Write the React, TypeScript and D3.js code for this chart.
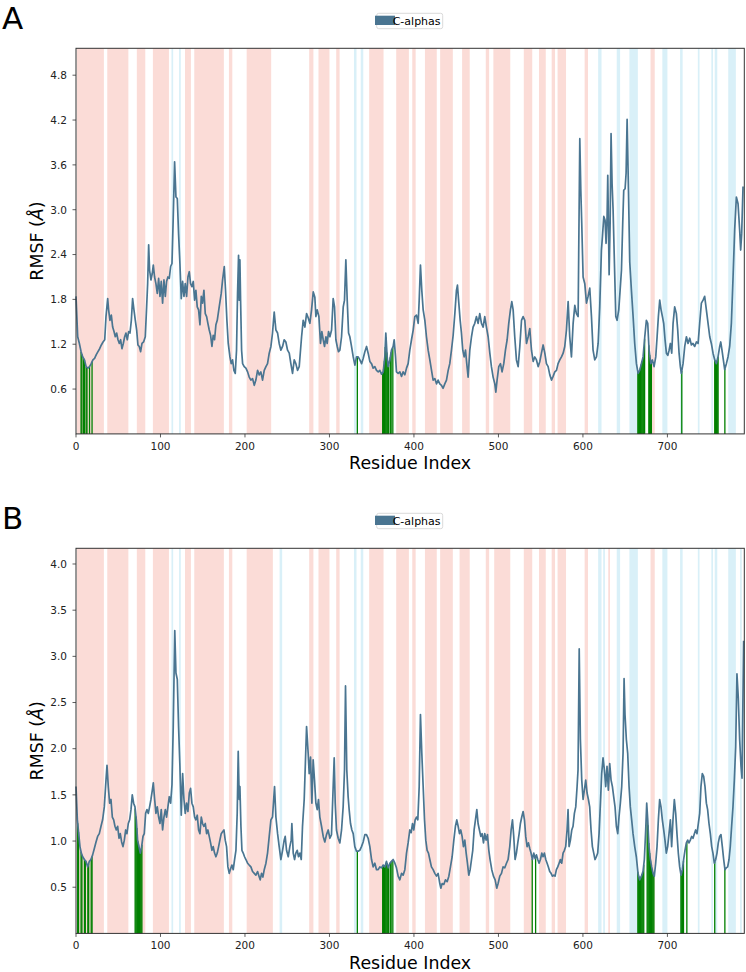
import React from 'react';
import * as d3 from 'd3';

// ---------- data ----------
const xTicks = [0, 100, 200, 300, 400, 500, 600, 700];
const yTicksA = [0.6, 1.2, 1.8, 2.4, 3.0, 3.6, 4.2, 4.8];
const yTicksB = [0.5, 1.0, 1.5, 2.0, 2.5, 3.0, 3.5, 4.0];
const panelLabels = ['A', 'B'];
const legendLabel = 'C-alphas';
const xLabel = 'Residue Index';

const resA = [0,2,4,6,8,10,12,14,16,18,20,22,24,26,28,30,32,34,35.5,37.5,38.6,40.2,41.8,43.4,45,46.5,48.1,49.7,51.3,52.8,54.4,56,57.6,59.1,60.7,62.3,63.9,65.5,67,68.6,70.2,71.8,73.3,74.9,76.5,78.1,80,82,83.6,84.8,86,87.1,88.7,90.3,91.5,93,94.6,96.2,97.8,99.4,100.9,102.5,104.1,105.7,107.2,108.8,110.4,112,113.6,115.1,116.7,118.3,119.9,121.4,123,124.6,126.2,127.8,129.3,130.9,132.5,134.1,135.6,137.2,138.8,140.4,141.9,143.5,145.1,146.7,148.3,149.8,151.4,153,154.6,156.1,157.7,159.3,160.9,162.4,164,165.6,167.2,169.5,171.9,173.5,175.5,177,178.6,180.2,182.2,183.7,185.3,186.9,188.5,190,191.2,192.4,193.2,194,194.8,196,197.2,199.1,201.1,203.1,205,207,209,211,212.9,214.9,216.9,218.8,220.8,222.8,224.8,226.7,228.7,230.7,232.6,234.6,236.6,238.6,240.5,242.5,244.5,246.4,248.4,250.4,252.4,254.3,256.3,258.3,260.2,262.2,264.2,
  267,268.9,270.9,272.9,274.9,276.8,278.8,280.8,282.7,283.9,285.5,287.5,289.4,291,292.6,294.2,295.8,297.3,298.9,300.5,302.5,304.4,306,307.6,309.2,310.7,312.3,314.3,316.3,317.8,319.4,321,322.6,324.1,326.1,328.1,330.1,332,334,336,338,339.9,341.9,343.9,345.8,347.8,349.8,351.7,353.7,355.7,357.7,359.6,361.6,363.6,365.5,366.7,368.3,369.5,371.5,373.4,375.4,376.6,378.2,379.3,381.3,383.3,385.3,387.2,389.2,391.2,393.1,395.1,397.1,399.1,401,403,405,406.2,407.7,409.3,410.9,412.9,414.8,416.8,418.8,420.8,422.7,424.7,426.7,428.6,430.6,432.6,434.5,436.5,438.5,440.5,442.4,444.4,446.4,448.4,450.3,451.5,453.1,454.7,456.2,457.8,459.4,461,462.5,464.1,466.1,468.1,470,472,474,475.9,477.9,479.9,481.9,483.8,485.8,487.8,489.8,491.7,493.7,495.7,496.9,498.4,500.4,502.4,504.3,506.3,508.3,510.3,512.2,514.2,515.8,517.4,519.3,521.3,523.3,
  525.3,527.3,529.2,531.2,533.2,535.2,537.1,539.1,541.1,543,545,547,549,550.9,552.9,554.9,556.8,558.8,560.8,562.8,564.7,566.7,568.7,570.6,572.6,574.6,576.6,578.5,580.5,582.5,584.4,586.4,588.4,590.4,592.3,594.3,596.3,597.5,598.6,600.2,602.2,604.2,606.1,608.1,610.1,612,614,616,618,619.9,621.9,623.1,624.7,626.2,627.4,628.6,629.4,630.2,631,632.2,633.3,634.5,635.7,637.3,638.9,640.4,642.4,644,645.6,647.1,648.3,649.9,651.1,652.3,653.9,655.4,657.4,659.4,661.3,663.3,665.3,667.2,669.2,671.2,673.2,675.1,676.7,678.3,680.3,682.2,684.2,686.2,687.8,689.3,690.9,692.5,694.1,695.6,697.2,698.8,700.4,702,703.5,705.1,706.7,708.6,710.6,712.2,713.8,715.3,716.5,718.5,720.5,722.5,724.4,726.4,728.4,730.3,732.3,734.3,736.3,738.2,740.2,742.2,744.1,746.1,748.1,750.1,752,754,756,757.9,759.9,761.9,763.1,764.6,766.2,767.8,769.8,771.7,773.7,775.7,777.7,779.6,781.6,783.6,785.5,786.7,787.9,789.5];
const rmsfA = [1.84,1.30,1.21,1.10,1.03,0.99,0.90,0.88,0.90,0.94,0.99,1.01,1.06,1.10,1.14,1.19,1.23,1.26,1.57,1.81,1.66,1.52,1.59,1.43,1.37,1.30,1.35,1.26,1.21,1.26,1.14,1.21,1.30,1.35,1.26,1.37,1.35,1.52,1.81,1.66,1.52,1.39,1.19,1.17,1.10,1.21,1.23,1.30,1.70,2.01,2.53,2.19,2.06,2.15,2.26,2.10,2.01,1.88,2.08,1.84,2.04,1.75,2.06,1.84,2.04,2.10,2.08,2.24,2.28,2.90,3.64,3.17,3.15,2.68,2.28,1.81,2.04,1.84,2.01,1.84,2.10,2.17,2.01,1.97,2.04,1.79,1.92,1.70,1.66,1.46,1.84,1.75,1.92,1.61,1.57,1.48,1.39,1.32,1.17,1.32,1.26,1.46,1.52,1.70,1.88,2.06,2.24,1.92,1.52,1.21,1.03,0.94,0.99,0.85,0.81,1.12,1.88,2.39,1.79,2.33,1.79,1.12,0.94,0.90,0.88,0.83,0.76,0.72,0.74,0.65,0.72,0.85,0.79,0.83,0.72,0.85,0.90,0.94,1.08,1.17,1.35,1.63,1.39,1.35,1.21,1.12,1.17,1.26,1.23,1.12,1.08,0.94,0.81,0.99,0.94,0.85,0.90,
  1.30,1.52,1.43,1.61,1.55,1.48,1.66,1.90,1.83,1.57,1.66,1.57,1.21,1.37,1.26,1.17,1.30,1.21,1.37,1.30,1.39,1.81,1.70,1.26,1.17,1.10,1.12,1.30,1.70,1.79,2.33,1.79,1.35,1.30,1.17,1.03,0.92,1.03,1.03,0.99,0.94,1.01,1.10,1.17,1.08,0.97,0.94,0.88,0.90,0.85,0.83,0.85,0.80,0.83,1.03,1.35,1.03,0.90,0.99,1.12,1.17,1.26,1.03,0.83,0.81,0.83,0.77,0.83,0.79,0.88,0.94,1.12,1.26,1.39,1.57,1.59,1.48,1.79,2.26,1.92,1.66,1.52,1.30,1.12,0.99,0.85,0.72,0.74,0.67,0.72,0.67,0.65,0.61,0.67,0.72,0.85,0.94,1.12,1.32,1.61,1.92,1.99,1.75,1.52,1.35,1.12,1.03,1.12,0.94,0.76,1.12,1.30,1.43,1.48,1.57,1.48,1.61,1.48,1.43,1.57,1.43,1.30,1.08,0.90,0.76,0.67,0.56,0.72,0.90,0.94,0.83,0.94,1.12,1.26,1.48,1.66,1.77,1.66,1.30,0.99,0.90,
  1.17,1.52,1.57,1.52,1.21,1.30,1.41,1.12,0.97,1.03,0.99,0.90,0.97,1.08,1.19,1.08,0.94,0.90,0.79,0.72,0.77,0.83,0.85,0.94,0.99,1.03,1.08,1.17,1.39,1.77,1.30,1.03,1.48,1.72,1.61,1.57,3.95,3.26,2.82,2.10,2.01,1.75,1.84,1.95,1.57,1.12,0.99,1.03,1.21,1.70,2.46,2.64,2.91,2.86,2.55,2.91,3.46,2.82,2.13,2.82,4.02,3.35,3.00,2.28,1.57,1.52,1.66,1.92,2.19,2.82,3.26,3.28,3.49,4.21,3.26,2.30,1.92,1.57,1.21,0.94,0.81,0.85,0.94,1.03,1.30,1.52,1.48,1.12,0.94,0.99,0.90,1.03,1.30,1.57,1.79,1.66,1.57,1.48,1.26,1.08,1.05,1.12,1.21,1.08,1.48,1.70,1.61,1.39,1.08,0.90,0.81,0.94,1.17,1.30,1.21,1.28,1.19,1.21,1.17,1.23,1.21,1.48,1.75,1.79,1.84,1.66,1.48,1.30,1.21,1.08,0.99,0.94,1.03,1.17,1.23,1.12,0.99,0.86,0.94,1.03,1.17,1.48,2.10,2.73,3.17,3.08,2.73,2.46,2.68,3.31];

const resB = [0,1.6,3.2,4.7,6.3,7.9,9.9,11.8,13.8,15.8,17.7,19.7,21.7,23.7,25.6,27.6,29.6,31.5,33.5,35.5,36.7,38.2,39.8,41.4,43,44.6,46.1,47.7,49.3,50.9,52.4,54,55.6,57.2,58.8,60.3,61.9,63.5,65.1,66.6,68.2,69.8,71.4,72.9,74.5,76.1,77.7,79.3,80.8,82.4,84,85.6,87.1,88.7,90.3,91.5,93.1,94.6,96.2,97.8,99.4,100.9,102.5,104.1,105.7,107.2,108.8,110.4,112,113.6,115.1,116.9,118.3,119.9,121.4,123,124.6,126.2,127.8,129.3,130.9,132.5,134.1,135.6,137.2,138.8,140.4,141.9,143.5,145.1,146.7,148.3,149.8,151.4,153,154.6,156.1,157.7,159.3,160.9,162.4,164,165.6,167.2,168.8,170.3,171.9,173.5,175.1,176.6,178.2,179.8,181.4,183,184.5,186.1,187.7,189.3,190.8,192,193.2,194,195.2,196.4,197.9,199.5,201.1,203.1,205,207,209,211,212.9,214.9,216.9,218,219.6,221.2,222.8,224.8,226.7,228.7,230.7,232.6,235,236.6,238.6,240.5,242.5,244.5,246.4,247.6,249.2,251.2,253.1,254.7,255.5,257.1,258.7,260.2,261.8,263.4,265,266.6,268.1,270.1,
  272.9,274.8,276,277.6,279.2,280.7,282.3,283.9,285.5,287,288.6,290.6,292.6,294.5,296.5,298.5,300.5,302.4,304.4,305.6,306.8,308.3,310.3,312.3,314.3,316.2,317.8,319,320.5,322.1,323.3,324.9,326.5,328.1,330,332,334,335.9,337.9,339.9,341.9,343.8,345.8,347.8,349.8,351.7,353.7,355.7,
  357.7,359.6,361.6,363.6,365.5,367.5,369.5,371.5,373.4,375.4,377.4,379.3,381.3,383.3,385.3,387.2,389.2,391.2,393.1,395.1,396.7,398.3,399.8,401.4,403,404.6,406.2,407.7,409.3,410.9,412.5,414,415.6,417.2,418.8,420.7,422.7,424.7,426.7,428.6,430.6,431.8,433.4,435.3,437.3,439.3,441.3,443.2,445.2,447.2,449.1,450.7,452.3,453.9,455.4,457,458.6,460.2,461.8,463.3,464.9,466.5,468.1,469.6,471.2,472.8,474.4,475.9,477.5,479.1,480.7,482.3,483.8,485.4,487,488.6,490.1,492.1,494.1,496.1,498,499.6,501.6,503.6,505.5,507.5,509.5,511.4,513.4,515,516.6,518.1,519.7,521.3,522.9,524.5,526,527.6,529.2,530.8,532.3,533.9,535.5,537.1,538.6,540.2,541.8,543.4,545,546.5,548.1,549.7,551.3,552.8,554.4,556,557.6,559.1,560.7,562.3,563.9,565.5,567,568.6,570.2,571.8,573.3,574.9,576.5,578.1,579.6,581.2,582.4,583.6,585.2,586.8,588.3,589.9,591.5,593.1,594.2,595.6,597,598.6,600.2,601.7,603.3,604.9,606.5,608,609.6,611.2,612.8,614.3,615.9,617.5,619.1,620.7,622.2,623.8,625.4,627,628.5,630.1,631.7,633.3,634.9,636.4,638,639.6,641.2,642.7,644.3,645.9,647.5,648.7,649.8,651.4,653,654.6,656.1,657.7,659.3,661.3,663.2,665.2,667.2,669.2,671.1,672.7,674.3,675.5,676.7,678.2,679.8,681.4,683,684.5,686.1,687.7,689.3,690.8,692.4,694,695.6,697.1,698.7,700.3,701.9,703.5,705,706.6,708.2,709.8,711.3,712.9,714.5,716.1,717.7,719.2,720.8,722.4,724,725.5,727.1,728.7,730.3,731.9,733.4,735,736.6,738.2,739.7,741.3,742.9,744.5,746.1,747.6,749.2,750.8,752.4,753.9,755.5,757.1,758.7,760.2,761.8,763.4,765,766.6,768.1,769.7,771.3,772.9,774.4,776,777.6,779.2,780.8,782.3,783.9,785.5,787.1,788.3,790.2];
const rmsfB = [1.59,1.23,1.08,0.94,0.87,0.83,0.80,0.78,0.72,0.78,0.80,0.85,0.92,0.99,1.05,1.08,1.16,1.23,1.37,1.66,1.82,1.59,1.41,1.45,1.26,1.23,1.16,1.12,1.16,1.03,1.08,0.99,0.94,1.01,1.12,1.08,1.19,1.23,1.34,1.50,1.41,1.37,1.23,1.01,0.94,0.87,0.94,1.05,1.08,1.30,1.34,1.30,1.37,1.45,1.55,1.63,1.45,1.30,1.37,1.26,1.19,1.34,1.12,1.26,1.34,1.26,1.37,1.48,1.41,1.61,2.24,3.28,2.82,2.75,2.24,1.81,1.28,1.73,1.45,1.30,1.41,1.32,1.52,1.57,1.41,1.37,1.26,1.23,1.28,1.12,1.08,1.26,1.19,1.16,1.19,1.08,1.12,1.05,0.98,0.90,0.94,0.87,0.83,0.87,0.94,1.01,1.08,1.10,1.12,1.01,0.94,0.72,0.65,0.70,0.74,0.69,0.80,0.90,1.30,1.97,1.45,1.59,1.16,0.90,0.87,0.83,0.80,0.76,0.74,0.72,0.67,0.65,0.63,0.67,0.61,0.58,0.65,0.61,0.69,0.76,0.87,1.05,1.23,1.26,1.59,1.26,1.08,0.94,0.80,0.90,1.01,1.05,0.90,0.83,0.94,1.01,1.19,0.87,0.80,0.87,0.90,0.83,0.87,0.80,1.16,1.45,
  2.24,1.95,1.73,1.91,1.41,1.88,1.66,1.41,1.34,1.45,1.26,1.16,1.05,0.99,1.07,1.12,1.03,1.07,1.59,1.90,1.41,1.12,1.03,0.98,1.12,1.37,1.77,2.68,1.77,1.48,1.34,1.19,1.12,1.08,0.94,0.89,0.89,0.90,0.94,0.99,1.07,1.07,1.03,0.94,0.80,0.72,0.76,0.69,
  0.69,0.72,0.71,0.74,0.72,0.78,0.71,0.76,0.78,0.80,0.76,0.71,0.62,0.58,0.65,0.63,0.69,0.87,0.98,1.12,1.09,1.19,1.12,1.23,1.26,1.23,1.59,2.37,1.95,1.59,1.23,1.01,0.90,0.87,0.80,0.72,0.69,0.65,0.62,0.65,0.54,0.49,0.54,0.53,0.58,0.56,0.62,0.72,0.83,1.01,1.16,1.23,1.16,1.08,1.12,1.05,0.94,1.01,0.87,0.76,0.63,0.69,0.80,0.90,1.12,1.23,1.34,1.19,1.12,1.05,1.08,0.98,1.08,1.01,1.07,0.90,0.80,0.69,0.62,0.58,0.49,0.54,0.62,0.65,0.72,0.71,0.76,0.80,0.94,1.12,1.23,1.05,0.80,0.87,0.98,1.08,1.19,1.26,1.32,1.23,1.05,0.94,0.98,0.92,0.87,0.80,0.87,0.81,0.85,0.80,0.76,0.80,0.87,0.83,0.87,0.80,0.76,0.72,0.67,0.65,0.62,0.63,0.62,0.69,0.72,0.76,0.80,0.76,0.87,0.90,0.94,1.12,1.34,0.94,1.01,1.12,1.16,1.30,1.37,1.59,1.77,3.08,2.10,1.66,1.45,1.55,1.66,1.52,1.45,1.37,1.12,0.94,0.87,0.80,0.83,0.87,1.08,1.41,1.73,1.90,1.77,1.59,1.81,1.55,1.84,1.66,1.59,1.48,1.37,1.16,1.08,1.26,1.41,1.59,1.95,2.76,2.37,2.10,1.95,1.59,1.37,1.23,1.08,0.94,0.83,0.65,0.58,0.62,0.67,0.80,1.12,1.41,1.23,0.94,0.80,0.72,0.65,0.62,0.76,0.94,1.23,1.45,1.37,1.23,1.12,1.01,0.87,0.94,1.08,1.23,0.94,1.23,1.45,1.30,1.08,0.87,0.72,0.63,0.69,0.80,0.90,0.98,1.01,0.98,1.01,1.05,1.03,1.08,1.12,1.08,1.19,1.30,1.59,1.73,1.70,1.59,1.41,1.34,1.19,1.08,0.94,0.87,0.76,0.80,0.87,0.98,1.05,1.07,0.94,0.80,0.69,0.71,0.72,0.80,0.94,1.16,1.37,1.66,2.02,2.81,2.55,2.10,1.81,1.68,3.17];

const helixA = [[1,33],[37,62],[72,82],[91,110],[129,136],[140,175],[181,185],[202,231],[276,281],[287,300],[308,312],[347,364],[379,394],[398,402],[413,427],[431,446],[457,466],[485,489],[494,514],[530,540],[548,556],[563,567],[570,580],[602,606],[680,685]];
const strandA = [[113,115],[122,124],[329,332],[337,340],[618,622],[640,644],[655,665],[694,700],[715,718],[736,738],[752,754],[756,759],[772,781]];
const helixB = [[1,33],[37,62],[72,82],[91,110],[129,136],[140,175],[181,185],[202,233],[276,281],[287,300],[308,312],[347,364],[379,394],[398,402],[413,427],[431,446],[454,466],[485,489],[495,514],[530,540],[548,556],[563,567],[570,580],[602,606],[630,632],[680,685]];
const strandB = [[113,115],[122,124],[241,244],[329,332],[337,340],[618,622],[624,626],[640,644],[655,665],[694,700],[715,718],[736,738],[752,754],[756,759],[772,781],[786,788]];

const contactsA = [6,7,9,10,12,13,16,19,333,363,364,365,366,367,368,369,370,372,373,375,665,666,667,668,669,670,671,672,673,678,679,680,681,717,756,757,758,759,760,768];
const contactsB = [2,3,6,7,10,11,14,15,18,19,70,71,72,73,74,75,76,77,78,333,363,364,365,366,367,368,369,370,372,373,375,540,544,665,666,667,668,669,670,671,672,676,677,678,679,680,681,682,683,684,716,717,718,719,723,756,768];

// ---------- styles ----------
const LINE = '#4a7591';
const HELIX = '#fbdcd7';
const STRAND = '#d9f0f8';
const GREEN = '#008000';
const FONT = 'DejaVu Sans, sans-serif';

const X0 = 76, X1 = 744.3, XMAX = 791;

function interp(res: number[], vals: number[], r: number) {
  const i = d3.bisectLeft(res, r);
  if (i <= 0) return vals[0];
  if (i >= res.length) return vals[vals.length - 1];
  const r0 = res[i - 1], r1 = res[i];
  const t = (r - r0) / (r1 - r0);
  return vals[i - 1] + t * (vals[i] - vals[i - 1]);
}

type PanelProps = {
  top: number; bottom: number; yMax: number; yTicks: number[];
  res: number[]; vals: number[]; helix: number[][]; strand: number[][];
  contacts: number[]; label: string; offset: number;
};

function Panel(p: PanelProps) {
  const x = d3.scaleLinear().domain([0, XMAX]).range([X0, X1]);
  const y = d3.scaleLinear().domain([0, p.yMax]).range([p.bottom, p.top]);
  const n = Math.min(p.res.length, p.vals.length);
  const pts = p.res.slice(0, n).map((r, i) => [r, p.vals[i]] as [number, number]);
  const line = d3.line<[number, number]>().x(d => x(d[0])).y(d => y(d[1]));
  const midY = (p.top + p.bottom) / 2;
  const legTop = p.top - 35;
  return (
    <g>
      <text x={2} y={p.offset + 29} fontSize={31} fontFamily={FONT} fill="#000">{p.label}</text>
      {/* legend */}
      <rect x={376.7} y={legTop} width={66} height={15.4} rx={2} fill="#fff" stroke="#d0d0d0" strokeWidth={0.8} />
      <rect x={375} y={legTop + 2.4} width={20} height={9.3} fill={LINE} />
      <text x={392.7} y={legTop + 11.7} fontSize={11} fontFamily={FONT} fill="#000">{legendLabel}</text>
      {/* spans */}
      {p.helix.map((s, i) => (
        <rect key={'h' + i} x={x(s[0])} y={p.top} width={x(s[1]) - x(s[0])} height={p.bottom - p.top} fill={HELIX} />
      ))}
      {p.strand.map((s, i) => (
        <rect key={'s' + i} x={x(s[0])} y={p.top} width={x(s[1]) - x(s[0])} height={p.bottom - p.top} fill={STRAND} />
      ))}
      {/* contacts */}
      {p.contacts.map((r, i) => (
        <line key={'c' + i} x1={x(r)} x2={x(r)} y1={p.bottom} y2={y(interp(p.res, p.vals, r))} stroke={GREEN} strokeWidth={1.3} />
      ))}
      <path d={line(pts) || ''} fill="none" stroke={LINE} strokeWidth={1.7} strokeLinejoin="round" />
      {/* frame */}
      <rect x={X0} y={p.top} width={X1 - X0} height={p.bottom - p.top} fill="none" stroke="#333" strokeWidth={1} />
      {/* x ticks */}
      {xTicks.map(t => (
        <g key={'x' + t}>
          <line x1={x(t)} x2={x(t)} y1={p.bottom} y2={p.bottom + 3.5} stroke="#333" strokeWidth={0.8} />
          <text x={x(t)} y={p.bottom + 16} textAnchor="middle" fontSize={10.5} fontFamily={FONT} fill="#222">{t}</text>
        </g>
      ))}
      {/* y ticks */}
      {p.yTicks.map(t => (
        <g key={'y' + t}>
          <line x1={X0 - 3.5} x2={X0} y1={y(t)} y2={y(t)} stroke="#333" strokeWidth={0.8} />
          <text x={67} y={y(t) + 3.8} textAnchor="end" fontSize={10.5} fontFamily={FONT} fill="#222">{t.toFixed(1)}</text>
        </g>
      ))}
      <text x={(X0 + X1) / 2} y={p.bottom + 35.5} textAnchor="middle" fontSize={17.4} fontFamily={FONT} fill="#000">{xLabel}</text>
      <text transform={`translate(43,${midY}) rotate(-90)`} textAnchor="middle" fontSize={17.4} fontFamily={FONT} fill="#000">
        RMSF (<tspan fontStyle="italic">Å</tspan>)
      </text>
    </g>
  );
}

export default function App() {
  return (
    <svg width={746} height={972} style={{ position: 'absolute', left: 0, top: 0, background: '#fff' }}>
      <rect width={746} height={972} fill="#fff" />
      <Panel top={48.3} bottom={433.9} yMax={5.16} yTicks={yTicksA} res={resA} vals={rmsfA}
        helix={helixA} strand={strandA} contacts={contactsA} label={panelLabels[0]} offset={0} />
      <Panel top={548.3} bottom={933.4} yMax={4.17} yTicks={yTicksB} res={resB} vals={rmsfB}
        helix={helixB} strand={strandB} contacts={contactsB} label={panelLabels[1]} offset={500} />
    </svg>
  );
}
